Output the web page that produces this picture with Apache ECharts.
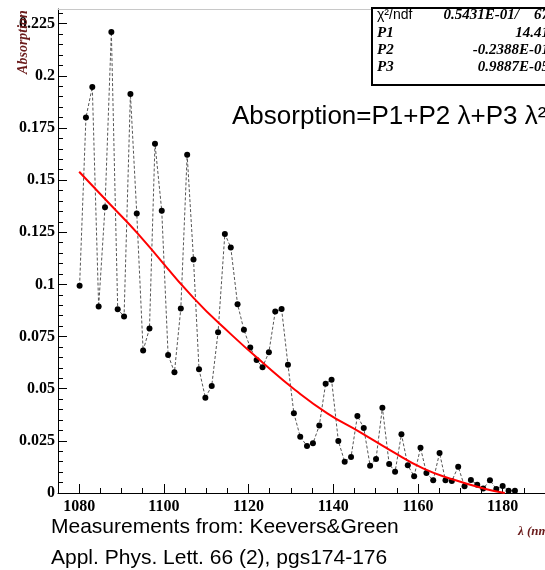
<!DOCTYPE html>
<html style="height: 100%">
  <head>
    <meta charset="UTF-8" />
    <title>Absorption</title>
    <script src="https://cdn.jsdelivr.net/npm/echarts@6.0.0/dist/echarts.min.js"></script>
  </head>
  <body style="height: 100%; margin: 0; background-color: #fff">
    <div id="main" style="width: 545px; height: 570px"></div>
    <script type="text/javascript">
      var lambdaNm = [
        1080.1, 1081.6, 1083.1, 1084.6, 1086.1, 1087.6, 1089.1, 1090.6, 1092.1, 1093.6,
        1095.1, 1096.6, 1097.9, 1099.5, 1101.0, 1102.5, 1104.0, 1105.5, 1107.0, 1108.3,
        1109.8, 1111.3, 1112.8, 1114.4, 1115.8, 1117.4, 1118.9, 1120.4, 1121.9, 1123.3,
        1124.8, 1126.3, 1127.8, 1129.3, 1130.7, 1132.2, 1133.8, 1135.2, 1136.7, 1138.2,
        1139.6, 1141.2, 1142.7, 1144.2, 1145.7, 1147.2, 1148.7, 1150.1, 1151.6, 1153.2,
        1154.6, 1156.1, 1157.6, 1159.1, 1160.6, 1162.0, 1163.6, 1165.1, 1166.5, 1168.0,
        1169.5, 1171.0, 1172.5, 1174.0, 1175.4, 1177.0, 1178.5, 1180.0, 1181.4, 1182.9
      ];
      var absorption = [
        0.0994, 0.180, 0.1946, 0.0894, 0.137, 0.221, 0.0881, 0.0846, 0.1912, 0.134,
        0.0683, 0.0788, 0.1674, 0.1353, 0.0662, 0.0579, 0.0884, 0.1621, 0.1119, 0.0593,
        0.0457, 0.0513, 0.0771, 0.1242, 0.1177, 0.0905, 0.0782, 0.0697, 0.0638, 0.0603,
        0.0675, 0.087, 0.0882, 0.0615, 0.0382, 0.027, 0.0225, 0.0238, 0.0323, 0.0524,
        0.0543, 0.0249, 0.015, 0.0173, 0.0369, 0.0312, 0.0131, 0.0163, 0.0409, 0.0139,
        0.0102, 0.0282, 0.0133, 0.008, 0.0217, 0.0096, 0.0061, 0.0192, 0.0061, 0.0058,
        0.0126, 0.0032, 0.0062, 0.004, 0.0021, 0.0061, 0.0019, 0.0034, 0.0011, 0.0011
      ];

      // red fit curve
      var fitLambda = [1080, 1087, 1094, 1107, 1116, 1123.5, 1131, 1138.6, 1146.1, 1153.6, 1161.2, 1168.7, 1176.2, 1180.5];
      var fitValue = [0.154, 0.139, 0.124, 0.0935, 0.0758, 0.0622, 0.0494, 0.0382, 0.0294, 0.0203, 0.0118, 0.0062, 0.0018, 0.0];

      var xMajor = [1080, 1100, 1120, 1140, 1160, 1180];
      var xMinor = [1075, 1085, 1090, 1095, 1105, 1110, 1115, 1125, 1130, 1135, 1145, 1150, 1155, 1165, 1170, 1175, 1185, 1190];
      var yMajor = [0, 0.025, 0.05, 0.075, 0.1, 0.125, 0.15, 0.175, 0.2, 0.225];
      var yMinor = [
        0.005, 0.01, 0.015, 0.02, 0.03, 0.035, 0.04, 0.045, 0.055, 0.06, 0.065, 0.07,
        0.08, 0.085, 0.09, 0.095, 0.105, 0.11, 0.115, 0.12, 0.13, 0.135, 0.14, 0.145,
        0.155, 0.16, 0.165, 0.17, 0.18, 0.185, 0.19, 0.195, 0.205, 0.21, 0.215, 0.22, 0.23
      ];

      var statNames = ["χ²/ndf", "P1", "P2", "P3"];
      var statValues = ["0.5431E-01/    67", "14.41", "-0.2388E-01", "0.9887E-05"];

      var points = lambdaNm.map(function (x, i) {
        return [x, absorption[i]];
      });
      var fitPoints = fitLambda.map(function (x, i) {
        return [x, fitValue[i]];
      });

      var serif = "'Liberation Serif', 'DejaVu Serif', serif";
      var sans = "'Liberation Sans', Arial, sans-serif";
      var titleRed = "#6b1c1c";
      var xMin = 1075, xMax = 1190, yMin = 0, yMax = 0.232;

      var graphics = [
        {
          type: "rect",
          shape: { x: 372, y: 8, width: 200, height: 77 },
          style: { fill: "#fff", stroke: "#000", lineWidth: 2 },
          z: 10,
        },
        {
          type: "text",
          x: 23,
          y: 42,
          rotation: Math.PI / 2,
          style: {
            text: "Absorption",
            font: "italic bold 14px " + serif,
            fill: titleRed,
            textAlign: "center",
            textVerticalAlign: "middle",
          },
          z: 10,
        },
        {
          type: "text",
          x: 518,
          y: 532,
          style: {
            text: "λ (nm)",
            font: "italic bold 13px " + serif,
            fill: titleRed,
            textAlign: "left",
            textVerticalAlign: "middle",
          },
        },
        {
          type: "text",
          x: 232,
          y: 117,
          style: {
            text: "Absorption=P1+P2 λ+P3 λ²",
            font: "26px " + sans,
            fill: "#000",
            textAlign: "left",
            textVerticalAlign: "middle",
          },
        },
        {
          type: "text",
          x: 51,
          y: 527,
          style: {
            text: "Measurements from: Keevers&Green",
            font: "21px " + sans,
            fill: "#000",
            textAlign: "left",
            textVerticalAlign: "middle",
          },
        },
        {
          type: "text",
          x: 51,
          y: 558,
          style: {
            text: "Appl. Phys. Lett. 66 (2), pgs174-176",
            font: "21px " + sans,
            fill: "#000",
            textAlign: "left",
            textVerticalAlign: "middle",
          },
        },
      ];
      // stats box rows
      var rowY = [15, 33, 50, 67];
      for (var i = 0; i < statNames.length; i++) {
        graphics.push({
          type: "text",
          x: 377,
          y: rowY[i],
          style: {
            text: statNames[i],
            font: i === 0 ? "14px " + sans : "italic bold 15px " + serif,
            fill: "#000",
            textAlign: "left",
            textVerticalAlign: "middle",
          },
          z: 11,
        });
        graphics.push({
          type: "text",
          x: 549,
          y: rowY[i],
          style: {
            text: statValues[i],
            font: "italic bold 15px " + serif,
            fill: "#000",
            textAlign: "right",
            textVerticalAlign: "middle",
          },
          z: 11,
        });
      }

      var myChart = echarts.init(document.getElementById("main"));
      var option = {
        animation: false,
        grid: { left: 58, right: -22.5, top: 9, bottom: 77, containLabel: false },
        xAxis: [
          {
            type: "value",
            min: xMin,
            max: xMax,
            position: "bottom",
            axisLine: { onZero: false, lineStyle: { color: "#000", width: 1 } },
            axisTick: { inside: true, length: 9, customValues: xMajor, lineStyle: { color: "#000" } },
            axisLabel: {
              customValues: xMajor,
              formatter: function (v) {
                return String(v);
              },
              color: "#000",
              fontFamily: serif,
              fontWeight: "bold",
              fontSize: 16,
              margin: 6,
            },
            splitLine: { show: false },
          },
          {
            type: "value",
            min: xMin,
            max: xMax,
            position: "bottom",
            axisLine: { show: false, onZero: false },
            axisTick: { inside: true, length: 5, customValues: xMinor, lineStyle: { color: "#000" } },
            axisLabel: { show: false },
            splitLine: { show: false },
          },
          {
            type: "value",
            min: xMin,
            max: xMax,
            position: "top",
            axisLine: { onZero: false, lineStyle: { color: "#c8c8c8", width: 1 } },
            axisTick: { show: false },
            axisLabel: { show: false },
            splitLine: { show: false },
          },
        ],
        yAxis: [
          {
            type: "value",
            min: yMin,
            max: yMax,
            position: "left",
            axisLine: { show: true, onZero: false, lineStyle: { color: "#000", width: 1 } },
            axisTick: { show: true, inside: true, length: 9, customValues: yMajor, lineStyle: { color: "#000" } },
            axisLabel: {
              customValues: yMajor,
              formatter: function (v) {
                return String(v);
              },
              color: "#000",
              fontFamily: serif,
              fontWeight: "bold",
              fontSize: 16,
              margin: 3,
            },
            splitLine: { show: false },
          },
          {
            type: "value",
            min: yMin,
            max: yMax,
            position: "left",
            axisLine: { show: false, onZero: false },
            axisTick: { show: true, inside: true, length: 5, customValues: yMinor, lineStyle: { color: "#000" } },
            axisLabel: { show: false },
            splitLine: { show: false },
          },
        ],
        series: [
          {
            name: "data",
            type: "line",
            xAxisIndex: 0,
            yAxisIndex: 0,
            data: points,
            symbol: "circle",
            symbolSize: 6,
            itemStyle: { color: "#000" },
            lineStyle: { color: "#555", width: 1, type: [3, 2] },
            z: 3,
          },
          {
            name: "fit",
            type: "line",
            xAxisIndex: 0,
            yAxisIndex: 0,
            data: fitPoints,
            smooth: true,
            symbol: "none",
            lineStyle: { color: "#ff0000", width: 2 },
            z: 4,
          },
        ],
        graphic: graphics,
      };
      myChart.setOption(option);
    </script>
  </body>
</html>
